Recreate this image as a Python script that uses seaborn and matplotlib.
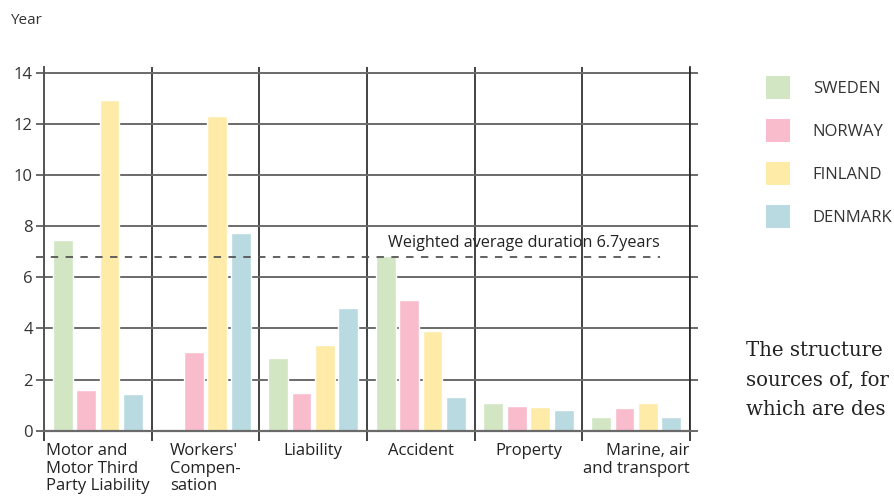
import numpy as np
import pandas as pd
import seaborn as sns
import matplotlib
matplotlib.use("Agg")
import matplotlib.pyplot as plt
import matplotlib.transforms as mtransforms
from matplotlib.patches import Patch

# ---- data ----
categories = ["Motor and\nMotor Third\nParty Liability", "Workers'\nCompen-\nsation",
              "Liability", "Accident", "Property", "Marine, air\nand transport"]
countries = ["SWEDEN", "NORWAY", "FINLAND", "DENMARK"]
sweden = [7.45, 0.04, 2.85, 6.84, 1.08, 0.55]
norway = [1.60, 3.09, 1.48, 5.12, 0.97, 0.90]
finland = [12.93, 12.30, 3.36, 3.90, 0.93, 1.09]
denmark = [1.44, 7.73, 4.81, 1.33, 0.82, 0.55]
weighted_avg_line = 6.81
avg_label = "Weighted average duration 6.7years"
yticks = [0, 2, 4, 6, 8, 10, 12, 14]
colors = ["#d2e6c4", "#f8bccd", "#feeba8", "#b8dae0"]
label_align = ["left", "left", "center", "center", "center", "right"]
label_shift_px = [0, -8, -8, -8, -7, 0]

df = pd.DataFrame({
    "category": np.repeat(categories, 4),
    "country": countries * len(categories),
    "value": np.array([sweden, norway, finland, denmark]).T.ravel(),
})

sns.set_theme(style="white")
plt.rcParams["font.family"] = ["Open Sans", "DejaVu Sans"]

fig = plt.figure(figsize=(8.94, 4.98), dpi=100)
ax = fig.add_axes([44 / 894, 1 - 430.7 / 498, 646 / 894, (430.7 - 67) / 498])

sns.barplot(data=df, x="category", y="value", hue="country", order=categories,
            hue_order=countries, palette=colors, saturation=1, width=0.87, gap=0.15,
            legend=False, ax=ax, zorder=2)

ax.set_ylim(0, 14.22)
ax.set_xlim(-0.5, len(categories) - 0.5)
ax.set_xlabel("")
ax.set_ylabel("")

# horizontal gridlines
ax.set_yticks(yticks)
ax.set_yticklabels([str(v) for v in yticks], fontsize=12, color="#333333")
ax.yaxis.grid(True, color="#6a6a6a", linewidth=1.4)
ax.tick_params(axis="y", which="major", direction="out", length=6, width=1.4,
               color="#6a6a6a", left=True, right=True, labelright=False, pad=2)

# vertical separators between categories
bounds = np.arange(len(categories) + 1) - 0.5
ax.set_xticks(bounds, minor=True)
ax.xaxis.grid(True, which="minor", color="#222222", linewidth=1.2)
ax.set_xticks(range(len(categories)))
ax.set_xticklabels(categories, fontsize=12, color="#222222", linespacing=1.12)
for lab, al, sh in zip(ax.get_xticklabels(), label_align, label_shift_px):
    lab.set_multialignment(al)
    lab.set_transform(lab.get_transform() +
                      mtransforms.ScaledTranslation(sh / 100, 0, fig.dpi_scale_trans))
ax.tick_params(axis="x", which="major", length=0, pad=9)
ax.tick_params(axis="x", which="minor", direction="out", length=7, width=1.2,
               color="#222222", bottom=True)
ax.set_axisbelow(True)

ax.spines["top"].set_visible(False)
ax.spines["left"].set_color("#555555")
ax.spines["left"].set_linewidth(1.4)
ax.spines["right"].set_color("#222222")
ax.spines["right"].set_linewidth(1.2)
ax.spines["bottom"].set_color("#6a6a6a")
ax.spines["bottom"].set_linewidth(1.6)

# weighted average dashed line (drawn over the bars)
ax.plot([-0.574, 5.22], [weighted_avg_line, weighted_avg_line], color="#555555",
        linewidth=1.3, dashes=(4.1, 4.1), zorder=3, clip_on=False)
ax.text(3.96, weighted_avg_line + 0.22, avg_label, ha="center", va="bottom",
        fontsize=11.6, color="#222222", zorder=3)

fig.text(10 / 894, 1 - 20 / 498, "Year", fontsize=11, color="#333333", va="center")

handles = [Patch(facecolor=c, edgecolor="none") for c in colors]
fig.legend(handles, countries, loc="upper left", bbox_to_anchor=(766 / 894, 1 - 76 / 498),
           frameon=False, fontsize=12, handlelength=1.45, handleheight=1.75,
           labelspacing=1.2, handletextpad=1.35, borderpad=0, borderaxespad=0,
           labelcolor="#333333")

fig.text(746 / 894, 1 - 380 / 498,
         "The structure\nsources of, for\nwhich are des",
         fontsize=14.2, family="DejaVu Serif", color="#222222", va="center",
         linespacing=1.7)

fig.savefig("out.png", dpi=100)
